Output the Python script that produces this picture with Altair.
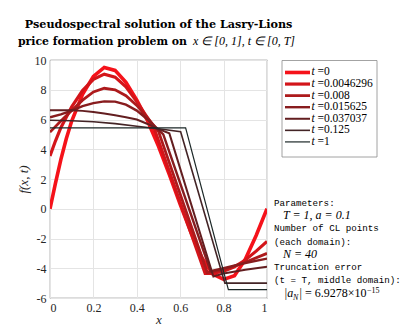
import altair as alt
import pandas as pd

labels = ["0", "0.0046296", "0.008", "0.015625", "0.037037", "0.125", "1"]
colors = ["#f5121a", "#d3151a", "#ad1a1c", "#881c1e", "#631e20", "#432426", "#1c2828"]
widths = [3.6, 3.2, 2.8, 2.4, 2.0, 1.6, 1.2]

x_t0 = [0, 0.025, 0.05, 0.075, 0.1, 0.15, 0.2, 0.25, 0.3, 0.35, 0.4, 0.45, 0.5, 0.55, 0.6, 0.65, 0.7, 0.75, 0.8, 0.85, 0.9, 0.95, 1.0]
f_t0 = [0, 1.7, 3.3, 4.7, 5.9, 7.7, 8.9, 9.5, 9.3, 8.5, 7.3, 5.9, 4.2, 2.3, 0.3, -1.6, -3.3, -4.4, -4.75, -4.5, -3.4, -1.8, 0]

x_t1 = [0, 0.025, 0.05, 0.1, 0.15, 0.2, 0.25, 0.3, 0.35, 0.4, 0.45, 0.48, 0.715, 0.75, 0.8, 0.85, 0.9, 0.95, 1.0]
f_t1 = [3.55, 4.55, 5.45, 6.85, 7.95, 8.7, 9.05, 8.85, 8.2, 7.2, 6.1, 5.4, -4.35, -4.35, -4.2, -3.9, -3.45, -2.85, -2.2]

x_t2 = [0, 0.05, 0.1, 0.15, 0.2, 0.25, 0.3, 0.35, 0.4, 0.45, 0.5, 0.725, 0.8, 0.9, 1.0]
f_t2 = [5.15, 5.9, 6.6, 7.3, 7.85, 8.1, 8.0, 7.6, 6.95, 6.1, 5.2, -4.3, -4.1, -3.6, -3.0]

x_t3 = [0, 0.05, 0.1, 0.15, 0.2, 0.25, 0.3, 0.35, 0.4, 0.45, 0.522, 0.74, 0.8, 0.9, 1.0]
f_t3 = [6.15, 6.35, 6.6, 6.9, 7.1, 7.22, 7.2, 7.0, 6.6, 6.0, 5.0, -4.2, -4.0, -3.65, -3.35]

x_t4 = [0, 0.05, 0.1, 0.15, 0.2, 0.25, 0.3, 0.35, 0.4, 0.45, 0.5, 0.55, 0.753, 0.8, 0.9, 1.0]
f_t4 = [6.62, 6.63, 6.62, 6.58, 6.5, 6.4, 6.28, 6.15, 6.0, 5.7, 5.35, 5.07, -4.55, -4.35, -4.1, -3.9]

x_t5 = [0, 0.1, 0.2, 0.3, 0.4, 0.5, 0.602, 0.806, 1.0]
f_t5 = [5.95, 5.92, 5.85, 5.72, 5.55, 5.38, 5.18, -5.0, -5.0]

x_t6 = [0, 0.625, 0.822, 1.0]
f_t6 = [5.44, 5.44, -5.44, -5.44]

xs_all = [x_t0, x_t1, x_t2, x_t3, x_t4, x_t5, x_t6]
fs_all = [f_t0, f_t1, f_t2, f_t3, f_t4, f_t5, f_t6]

x_ticks = [0, 0.2, 0.4, 0.6, 0.8, 1]
y_ticks = [-6, -4, -2, 0, 2, 4, 6, 8, 10]

SERIF = "Liberation Serif"
MONO = "Liberation Mono"
INK = "#262626"

color_scale = alt.Scale(domain=labels, range=colors)
x_enc = alt.X("x:Q", scale=alt.Scale(domain=[0, 1], nice=False),
              axis=alt.Axis(values=x_ticks, labelExpr="datum.value + ''", title="x",
                            titleFontStyle="italic", titleFontWeight="normal",
                            titleFont=SERIF, titleFontSize=13, titlePadding=0,
                            labelFont=SERIF, labelFontSize=12, labelPadding=4,
                            ticks=False, domain=False, gridColor="#e4e4e4",
                            labelColor=INK, titleColor=INK))
y_enc = alt.Y("f:Q", scale=alt.Scale(domain=[-6, 10], nice=False),
              axis=alt.Axis(values=y_ticks, labelExpr="datum.value + ''", title="f(x, t)",
                            titleFontStyle="italic", titleFontWeight="normal",
                            titleFont=SERIF, titleFontSize=13, titlePadding=4,
                            labelFont=SERIF, labelFontSize=12, labelPadding=4,
                            ticks=False, domain=False, gridColor="#e4e4e4",
                            labelColor=INK, titleColor=INK))

line_layers = []
for i, lab in enumerate(labels):
    df = pd.DataFrame({"x": xs_all[i], "f": fs_all[i], "label": lab})
    line_layers.append(
        alt.Chart(df).mark_line(strokeWidth=widths[i], strokeJoin="miter", clip=True).encode(
            x=x_enc, y=y_enc,
            color=alt.Color("label:N", scale=color_scale, legend=None)
        )
    )
main = alt.layer(*line_layers)

# legend
leg_df = pd.DataFrame({"label": labels, "w": widths})
leg_y = alt.Y("label:N", sort=labels, scale=alt.Scale(domain=labels, range=[6.7, 87.7]), axis=None)
one = pd.DataFrame({"a": [0]})
leg_box = alt.Chart(one).mark_rect(fill="white", stroke="#8c8c8c", strokeWidth=0.8).encode(
    x=alt.value(232), x2=alt.value(327), y=alt.value(0.5), y2=alt.value(97))
leg_rules = alt.Chart(leg_df).mark_rule().encode(
    x=alt.value(235), x2=alt.value(260), y=leg_y,
    color=alt.Color("label:N", scale=color_scale, legend=None),
    strokeWidth=alt.StrokeWidth("w:Q", scale=None, legend=None))
leg_t = alt.Chart(leg_df).mark_text(align="left", baseline="middle", font=SERIF, fontSize=11.5,
                                    fontStyle="italic", color="black").encode(
    x=alt.value(261.5), y=leg_y, text=alt.value("t"))
leg_v = alt.Chart(leg_df).mark_text(align="left", baseline="middle", font=SERIF, fontSize=11.5,
                                    color="black").encode(
    x=alt.value(267.5), y=leg_y, text=alt.Text("eq:N")).transform_calculate(eq="'=' + datum.label")
legend = alt.layer(leg_box, leg_rules, leg_t, leg_v)

def txt(s, x, y, font=SERIF, size=11, style="normal", weight="normal", align="left"):
    return alt.Chart(one).mark_text(text=s, align=align, baseline="alphabetic", font=font,
                                    fontSize=size, fontStyle=style, fontWeight=weight,
                                    color="black").encode(x=alt.value(x), y=alt.value(y))

TFONT = "DejaVu Serif"
annots = [
    txt("Pseudospectral solution of the Lasry-Lions", 108.5, -32, font=TFONT, size=11.2, weight="bold", align="center"),
    txt("price formation problem on", 137, -15, font=TFONT, size=10.9, weight="bold", align="right"),
    txt("x ∈ [0, 1],  t ∈ [0, T]", 143, -15, size=12, style="italic"),
    txt("Parameters:", 224, 146, font=MONO, size=9.2),
    txt("T = 1, a = 0.1", 233, 159, size=12, style="italic"),
    txt("Number of CL points", 224, 171, font=MONO, size=9.2),
    txt("(each domain):", 224, 184.5, font=MONO, size=9.2),
    txt("N = 40", 233, 198, size=12, style="italic"),
    txt("Truncation error", 224, 210, font=MONO, size=9.2),
    txt("(t = T, middle domain):", 224, 223, font=MONO, size=9.2),
    txt("|a", 234, 237, size=12, style="italic"),
    txt("N", 243, 239.5, size=8, style="italic"),
    txt("| = 6.9278×10", 249.5, 237, size=12),
    txt("−15", 317, 232.5, size=8),
]

chart = alt.layer(main, legend, *annots).resolve_scale(y="independent").properties(
    width=217, height=238,
    padding={"left": 42, "top": 52, "right": 142, "bottom": 28},
    autosize=alt.AutoSizeParams(type="none"),
    background="white",
).configure_view(stroke=INK, strokeWidth=0.8).configure_axis(labelFont=SERIF, titleFont=SERIF)

chart.save("out.html", embed_options={"renderer": "svg", "actions": False})
